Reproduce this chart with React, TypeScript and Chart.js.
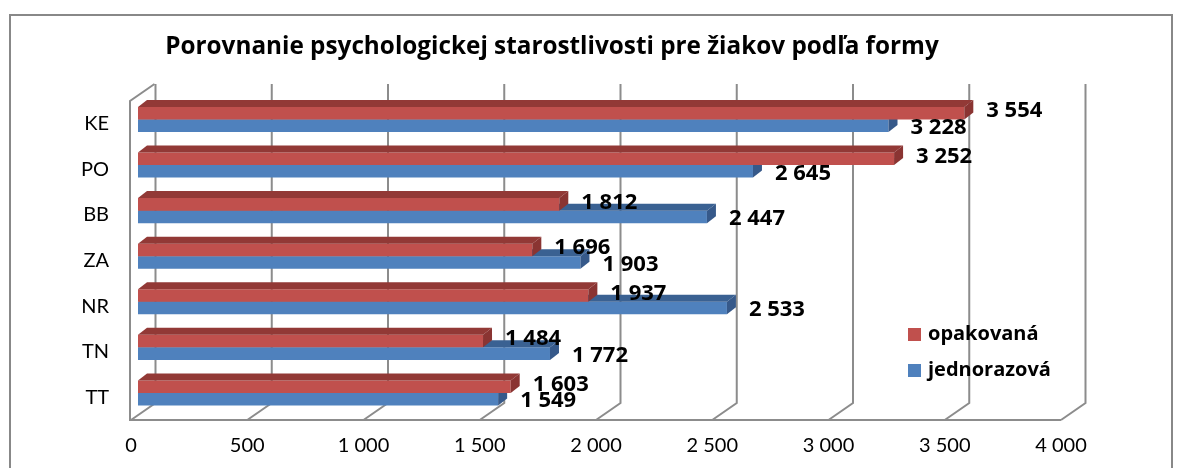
import React, { useEffect, useRef } from "react";
import { Chart, registerables } from "chart.js";

Chart.register(...registerables);

const titleText = "Porovnanie psychologickej starostlivosti pre žiakov podľa formy";
const categories = ["KE", "PO", "BB", "ZA", "NR", "TN", "TT"];
const seriesNames = ["opakovaná", "jednorazová"];
const opakovana = [3554, 3252, 1812, 1696, 1937, 1484, 1603];
const jednorazova = [3228, 2645, 2447, 1903, 2533, 1772, 1549];
const xMin = 0;
const xMax = 4000;
const xStep = 500;

const FONT = "Lato, 'Open Sans', sans-serif";
const BOLD_FONT = "'Open Sans', Lato, sans-serif";
const frontColors = ["#C0504D", "#4F81BD"];
const topColors = ["#923936", "#3A6192"];
const sideColors = ["#8A3432", "#36598A"];
const GRID = "#8c8c8c";

// 3D geometry (pixels)
const DX = 24.5; // wall depth x
const DY = 17; // wall depth y
const BX = 7; // bar plane offset x
const BY = -4.3; // bar plane offset y
const BDX = 9; // bar depth x
const BDY = 7; // bar depth y

const fmt = (v: number) => {
  const s = Math.round(v).toString();
  return s.replace(/\B(?=(\d{3})+(?!\d))/g, " ");
};

const pseudo3d = {
  id: "pseudo3d",
  beforeDraw(chart: any) {
    const ctx = chart.ctx;
    ctx.save();
    ctx.fillStyle = "#ffffff";
    ctx.fillRect(0, 0, chart.width, chart.height);
    ctx.strokeStyle = "#888888";
    ctx.lineWidth = 2;
    ctx.strokeRect(10, 15, 1162, 480);
    ctx.restore();
  },
  beforeDatasetsDraw(chart: any) {
    const ctx = chart.ctx;
    const { left, right, top, bottom } = chart.chartArea;
    const xs = chart.scales.x;
    ctx.save();
    ctx.strokeStyle = GRID;
    ctx.lineWidth = 2;
    ctx.lineJoin = "miter";
    xs.ticks.forEach((t: any) => {
      const xf = xs.getPixelForValue(t.value);
      ctx.beginPath();
      ctx.moveTo(xf + DX, top - DY);
      ctx.lineTo(xf + DX, bottom - DY);
      ctx.lineTo(xf, bottom);
      ctx.stroke();
    });
    ctx.beginPath();
    ctx.moveTo(right, bottom);
    ctx.lineTo(left - 1, bottom);
    ctx.lineTo(left - 1, top);
    ctx.lineTo(left - 1 + DX, top - DY);
    ctx.stroke();
    ctx.restore();
    // shift bars into their own depth plane
    ctx.save();
    ctx.translate(BX, BY);
  },
  afterDatasetDraw(chart: any, args: any) {
    const ctx = chart.ctx;
    const di = args.index;
    args.meta.data.forEach((bar: any) => {
      const p = bar.getProps(["x", "y", "base", "height"], true);
      const x0 = Math.min(p.base, p.x);
      const x1 = Math.max(p.base, p.x);
      const yT = p.y - p.height / 2;
      const yB = p.y + p.height / 2;
      ctx.fillStyle = topColors[di];
      ctx.beginPath();
      ctx.moveTo(x0, yT);
      ctx.lineTo(x1, yT);
      ctx.lineTo(x1 + BDX, yT - BDY);
      ctx.lineTo(x0 + BDX, yT - BDY);
      ctx.closePath();
      ctx.fill();
      ctx.fillStyle = sideColors[di];
      ctx.beginPath();
      ctx.moveTo(x1, yT);
      ctx.lineTo(x1 + BDX, yT - BDY);
      ctx.lineTo(x1 + BDX, yB - BDY);
      ctx.lineTo(x1, yB);
      ctx.closePath();
      ctx.fill();
    });
  },
  afterDatasetsDraw(chart: any) {
    const ctx = chart.ctx;
    ctx.restore();
    ctx.save();
    ctx.fillStyle = "#000";
    ctx.font = `bold 22px ${BOLD_FONT}`;
    ctx.textAlign = "left";
    ctx.textBaseline = "middle";
    chart.data.datasets.forEach((ds: any, di: number) => {
      const meta = chart.getDatasetMeta(di);
      meta.data.forEach((bar: any, i: number) => {
        const p = bar.getProps(["x", "y"], true);
        const x = p.x + BX + BDX + 13;
        const y = p.y + BY + (di === 0 ? -2 : 2);
        ctx.fillText(fmt(ds.data[i]), x, y);
      });
    });
    ctx.restore();
  },
  afterDraw(chart: any) {
    const ctx = chart.ctx;
    ctx.save();
    // title
    ctx.fillStyle = "#000";
    ctx.font = `bold 24.3px ${BOLD_FONT}`;
    ctx.textAlign = "center";
    ctx.textBaseline = "middle";
    ctx.fillText(titleText, 552, 47);
    // legend
    ctx.font = `bold 20px ${BOLD_FONT}`;
    ctx.textAlign = "left";
    const lx = 908;
    const ly = [334, 370];
    seriesNames.forEach((name, i) => {
      ctx.fillStyle = frontColors[i];
      ctx.fillRect(lx, ly[i] - 6, 13, 13);
      ctx.fillStyle = "#000";
      ctx.fillText(name, lx + 20, ly[i]);
    });
    ctx.restore();
  },
};

export default function App() {
  const ref = useRef<HTMLCanvasElement | null>(null);
  useEffect(() => {
    if (!ref.current) return;
    const chart = new Chart(ref.current, {
      type: "bar",
      data: {
        labels: categories,
        datasets: [
          {
            label: seriesNames[0],
            data: opakovana,
            backgroundColor: frontColors[0],
            borderWidth: 0,
            categoryPercentage: 0.55,
            barPercentage: 1,
            clip: false,
          } as any,
          {
            label: seriesNames[1],
            data: jednorazova,
            backgroundColor: frontColors[1],
            borderWidth: 0,
            categoryPercentage: 0.55,
            barPercentage: 1,
            clip: false,
          } as any,
        ],
      },
      options: {
        indexAxis: "y",
        animation: false,
        responsive: false,
        devicePixelRatio: 1,
        layout: { padding: { left: 0, top: 101, right: 120, bottom: 0 } },
        plugins: {
          legend: { display: false },
          title: { display: false },
          tooltip: { enabled: false },
        },
        scales: {
          x: {
            min: xMin,
            max: xMax,
            ticks: {
              stepSize: xStep,
              color: "#000",
              font: { family: FONT, size: 20 },
              padding: 14,
              callback: (v: any) => fmt(Number(v)),
              maxRotation: 0,
            },
            grid: { display: false, drawTicks: false },
            border: { display: false },
            afterFit: (s: any) => {
              s.height = 48;
            },
          },
          y: {
            ticks: {
              color: "#000",
              font: { family: FONT, size: 20 },
              padding: 22,
            },
            grid: { display: false, drawTicks: false },
            border: { display: false },
            afterFit: (s: any) => {
              s.width = 131;
            },
          },
        },
      },
      plugins: [pseudo3d],
    });
    return () => chart.destroy();
  }, []);
  return (
    <div style={{ position: "absolute", left: 0, top: 0, width: 1181, height: 468 }}>
      <canvas ref={ref} width={1181} height={468} style={{ display: "block" }} />
    </div>
  );
}
